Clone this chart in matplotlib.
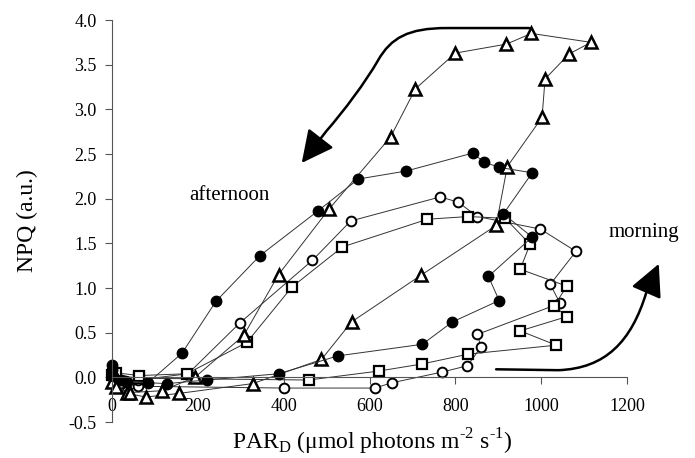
import matplotlib
matplotlib.use('Agg')
import matplotlib.pyplot as plt
from matplotlib.path import Path
from matplotlib.patches import FancyArrowPatch

plt.rcParams['font.family'] = ['Liberation Serif', 'DejaVu Serif']
plt.rcParams['mathtext.fontset'] = 'custom'
plt.rcParams['mathtext.rm'] = 'Liberation Serif'

# PAR_D (x) and NPQ (y) for each day, morning branch then afternoon branch
tri_x = [0, 35, 79, 156, 328, 488, 558, 719, 895, 921, 1002, 1009, 1065, 1116,
         977, 919, 800, 707, 649, 505, 388, 307, 193, 116, 42, 9]
tri_y = [-0.05, -0.18, -0.22, -0.18, -0.07, 0.20, 0.62, 1.14, 1.70, 2.36, 2.91, 3.34, 3.62, 3.75,
         3.85, 3.73, 3.63, 3.23, 2.69, 1.88, 1.15, 0.47, 0.00, -0.15, -0.17, -0.11]

dot_x = [0, 0, 2, 20, 35, 128, 221, 388, 526, 723, 793, 902, 877, 979, 912,
         979, 902, 867, 840, 686, 574, 479, 344, 242, 163, 84, 30]
dot_y = [0.14, 0.08, 0.02, -0.03, -0.05, -0.07, -0.03, 0.04, 0.24, 0.37, 0.62, 0.86, 1.13, 1.57, 1.83,
         2.29, 2.35, 2.41, 2.51, 2.31, 2.22, 1.86, 1.36, 0.85, 0.27, -0.06, -0.04]

circ_x = [5, 35, 60, 400, 612, 653, 770, 828, 860, 851, 1044, 1021, 1081,
          998, 851, 807, 765, 556, 467, 298, 177, 60, 20]
circ_y = [-0.04, -0.15, -0.10, -0.12, -0.12, -0.06, 0.06, 0.13, 0.34, 0.48, 0.83, 1.04, 1.41,
          1.66, 1.80, 1.96, 2.02, 1.75, 1.31, 0.61, 0.04, -0.03, -0.06]

sq_x = [0, 63, 458, 621, 723, 830, 1035, 951, 1060, 1030, 1060, 951, 974,
        916, 830, 735, 537, 419, 314, 174, 63, 10]
sq_y = [0.03, -0.01, -0.03, 0.07, 0.15, 0.26, 0.36, 0.52, 0.68, 0.80, 1.02, 1.21, 1.49,
        1.78, 1.80, 1.77, 1.46, 1.01, 0.39, 0.04, 0.02, 0.05]

fig = plt.figure(figsize=(6.95, 4.58), dpi=100)
ax = fig.add_axes([0.1612, 0.0786, 0.741, 0.8777])

line_kw = dict(color='#333333', lw=0.7, clip_on=False)
ax.plot(circ_x, circ_y, marker='o', ms=7, mfc='white', mec='black', mew=1.4, **line_kw)
ax.plot(sq_x, sq_y, marker='s', ms=7, mfc='white', mec='black', mew=1.6, **line_kw)
ax.plot(tri_x, tri_y, marker='^', ms=8, mfc='white', mec='black', mew=1.8, **line_kw)
ax.plot(dot_x, dot_y, marker='o', ms=7.5, mfc='black', mec='black', **line_kw)

ax.set_xlim(0, 1200)
ax.set_ylim(-0.5, 4.0)
ax.set_xticks([0, 200, 400, 600, 800, 1000, 1200])
ax.set_yticks([-0.5, 0, 0.5, 1.0, 1.5, 2.0, 2.5, 3.0, 3.5, 4.0])
ax.set_yticklabels(['-0.5', '0.0', '0.5', '1.0', '1.5', '2.0', '2.5', '3.0', '3.5', '4.0'])

ax.spines['top'].set_visible(False)
ax.spines['right'].set_visible(False)
ax.spines['bottom'].set_position(('data', 0))
for s in ('left', 'bottom'):
    ax.spines[s].set_color('#555555')
    ax.spines[s].set_linewidth(0.8)
ax.tick_params(axis='both', direction='out', length=5, width=0.8, color='#555555',
               labelsize=13)
ax.tick_params(axis='x', pad=10)
ax.tick_params(axis='y', pad=6)

ax.set_ylabel('NPQ (a.u.)', fontsize=17, labelpad=22)
fig.text(0.535, 0.035, r'PAR$_\mathrm{D}$ ($\mathrm{\mu}$mol photons m$^{\text{-2}}$ s$^{\text{-1}}$)',
         ha='center', va='center', fontsize=17)

ax.text(274, 2.03, 'afternoon', ha='center', va='center', fontsize=15)
ax.text(1240, 1.62, 'morning', ha='center', va='center', fontsize=15, clip_on=False)

# curved arrows
top = Path([(972, 3.91), (780, 3.91), (690, 3.91), (650, 3.80), (620, 3.55),
            (590, 3.30), (540, 2.98), (500, 2.76), (442, 2.40)],
           [Path.MOVETO, Path.LINETO, Path.CURVE4, Path.CURVE4, Path.CURVE4,
            Path.CURVE4, Path.CURVE4, Path.CURVE4, Path.LINETO])
bot = Path([(895, 0.09), (1040, 0.08), (1150, 0.10), (1210, 0.40), (1245, 0.95), (1274, 1.27)],
           [Path.MOVETO, Path.LINETO, Path.CURVE4, Path.CURVE4, Path.CURVE4, Path.LINETO])
for p in (top, bot):
    arr = FancyArrowPatch(path=p, arrowstyle='-|>,head_length=0.9,head_width=0.45',
                          mutation_scale=22, lw=1.8, color='black', clip_on=False)
    ax.add_patch(arr)

fig.savefig('out.png', dpi=100)
